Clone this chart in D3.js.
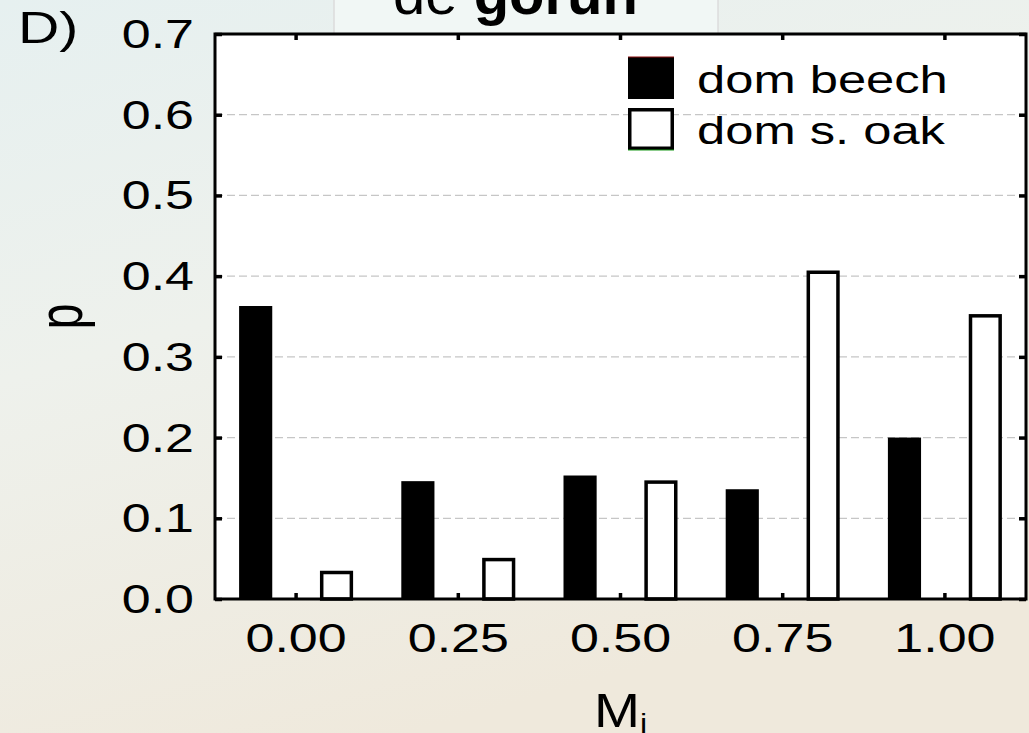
<!DOCTYPE html>
<html>
<head>
<meta charset="utf-8">
<script src="https://cdn.jsdelivr.net/npm/d3@7"></script>
<style>
  body { margin: 0; overflow: hidden; }
  text { font-family: "Liberation Sans", Arial, sans-serif; fill: #000; }
</style>
</head>
<body>
<script>
// values
var categories = ["0.00", "0.25", "0.50", "0.75", "1.00"];
var seriesNames = ["dom beech", "dom s. oak"];
var beech = [0.363, 0.146, 0.153, 0.136, 0.200];
var oak = [0.035, 0.051, 0.147, 0.407, 0.353];
var yTicks = [0.0, 0.1, 0.2, 0.3, 0.4, 0.5, 0.6, 0.7];

var W = 1029, H = 733;
var plot = {left: 215, right: 1026, top: 34, bottom: 599};
var sx = 1.3; // the original figure is stretched sideways

var svg = d3.select("body").append("svg")
    .attr("width", W)
    .attr("height", H);

// slide background
var defs = svg.append("defs");
var grad = defs.append("linearGradient")
    .attr("id", "bg")
    .attr("x1", 0).attr("y1", 0).attr("x2", 0.4).attr("y2", 1);
grad.append("stop").attr("offset", "0%").attr("stop-color", "#e6f0f0");
grad.append("stop").attr("offset", "45%").attr("stop-color", "#eef1ec");
grad.append("stop").attr("offset", "100%").attr("stop-color", "#efe9dc");
svg.append("rect")
    .attr("width", W).attr("height", H)
    .attr("fill", "url(#bg)");

// title box (cut off at the top, as in the slide)
svg.append("rect")
    .attr("x", 334).attr("y", -5)
    .attr("width", 384).attr("height", 42)
    .attr("fill", "#f1f7f5")
    .attr("stroke", "#dcdcdc")
    .attr("stroke-width", 1.5);
var title = svg.append("text")
    .attr("x", 393).attr("y", 14)
    .style("font-size", "58px");
title.append("tspan").text("de ");
title.append("tspan").style("font-weight", "bold").text("gorun");

// scales
var x = d3.scaleBand()
    .domain(categories)
    .range([plot.left, plot.right]);
var xs = d3.scaleBand()
    .domain(seriesNames)
    .range([-57, 57])
    .paddingInner(0.59);
var y = d3.scaleLinear()
    .domain([0, 0.7])
    .range([plot.bottom, plot.top]);

function cx(c) { return x(c) + x.bandwidth() / 2; }

// plot area
svg.append("rect")
    .attr("x", plot.left).attr("y", plot.top)
    .attr("width", plot.right - plot.left)
    .attr("height", plot.bottom - plot.top)
    .attr("fill", "#fff");

// dashed grid
svg.append("g")
    .selectAll("line")
    .data(yTicks.filter(function(d) { return d > 0 && d < 0.7; }))
    .enter().append("line")
    .attr("x1", plot.left).attr("x2", plot.right)
    .attr("y1", function(d) { return y(d); })
    .attr("y2", function(d) { return y(d); })
    .attr("stroke", "#c6c6c6")
    .attr("stroke-width", 1.2)
    .attr("stroke-dasharray", "8,4");

// beech bars
svg.append("g")
    .selectAll("rect")
    .data(beech)
    .enter().append("rect")
    .attr("x", function(d, i) { return cx(categories[i]) + xs(seriesNames[0]); })
    .attr("y", function(d) { return y(d); })
    .attr("width", xs.bandwidth())
    .attr("height", function(d) { return y(0) - y(d); })
    .attr("fill", "#000");

// oak bars
svg.append("g")
    .selectAll("rect")
    .data(oak)
    .enter().append("rect")
    .attr("x", function(d, i) { return cx(categories[i]) + xs(seriesNames[1]) + 1.75; })
    .attr("y", function(d) { return y(d) + 1.75; })
    .attr("width", xs.bandwidth() - 3.5)
    .attr("height", function(d) { return y(0) - y(d) - 1.75; })
    .attr("fill", "#fff")
    .attr("stroke", "#000")
    .attr("stroke-width", 3.5);

// frame
svg.append("rect")
    .attr("x", plot.left).attr("y", plot.top)
    .attr("width", plot.right - plot.left)
    .attr("height", plot.bottom - plot.top)
    .attr("fill", "none")
    .attr("stroke", "#000")
    .attr("stroke-width", 3);

// inward ticks on all four sides
var yAxisL = d3.axisLeft(y).tickValues(yTicks).tickSize(-7).tickFormat("");
var yAxisR = d3.axisRight(y).tickValues(yTicks).tickSize(-7).tickFormat("");
var xAxisB = d3.axisBottom(x).tickSize(-6).tickFormat("");
var xAxisT = d3.axisTop(x).tickSize(-6).tickFormat("");
[
  [yAxisL, "translate(" + plot.left + ",0)"],
  [yAxisR, "translate(" + plot.right + ",0)"],
  [xAxisB, "translate(0," + plot.bottom + ")"],
  [xAxisT, "translate(0," + plot.top + ")"]
].forEach(function(a) {
  var g = svg.append("g").attr("transform", a[1]).call(a[0]);
  g.select(".domain").remove();
  g.selectAll("line").attr("stroke", "#000").attr("stroke-width", 3.5);
});

// y tick labels
svg.append("g")
    .selectAll("text")
    .data(yTicks)
    .enter().append("text")
    .attr("transform", function(d) { return "translate(194," + (y(d) + 14) + ") scale(" + sx + ",1)"; })
    .attr("text-anchor", "end")
    .style("font-size", "40px")
    .text(function(d) { return d3.format(".1f")(d); });

// x tick labels
svg.append("g")
    .selectAll("text")
    .data(categories)
    .enter().append("text")
    .attr("transform", function(d) { return "translate(" + cx(d) + ",652) scale(" + sx + ",1)"; })
    .attr("text-anchor", "middle")
    .style("font-size", "40px")
    .text(function(d) { return d; });

// panel letter
svg.append("text")
    .attr("transform", "translate(18,43) scale(" + sx + ",1)")
    .style("font-size", "44px")
    .text("D)");

// axis titles
svg.append("text")
    .attr("transform", "translate(82," + ((plot.top + plot.bottom) / 2) + ") rotate(-90) scale(1,1.35)")
    .attr("text-anchor", "middle")
    .style("font-size", "46px")
    .text("p");

var xt = svg.append("text")
    .attr("transform", "translate(" + ((plot.left + plot.right) / 2) + ",727) scale(1.15,1)")
    .attr("text-anchor", "middle")
    .style("font-size", "48px");
xt.append("tspan").text("M");
xt.append("tspan").attr("dy", 6).style("font-size", "28px").text("i");

// legend
var legend = svg.append("g")
    .selectAll("g")
    .data(seriesNames)
    .enter().append("g")
    .attr("transform", function(d, i) { return "translate(628," + (57 + i * 51) + ")"; });
legend.append("rect")
    .attr("x", function(d, i) { return i ? 1.75 : 0; })
    .attr("y", function(d, i) { return i ? 1.75 : 0; })
    .attr("width", function(d, i) { return i ? 42.5 : 46; })
    .attr("height", function(d, i) { return i ? 38.5 : 42; })
    .attr("fill", function(d, i) { return i ? "#fff" : "#000"; })
    .attr("stroke", function(d, i) { return i ? "#000" : "none"; })
    .attr("stroke-width", 3.5);
legend.append("line")
    .attr("x1", 0).attr("x2", 46)
    .attr("y1", function(d, i) { return i ? 42 : 0; })
    .attr("y2", function(d, i) { return i ? 42 : 0; })
    .attr("stroke", function(d, i) { return i ? "#1a9a1a" : "#8b1010"; })
    .attr("stroke-width", 1.2);
legend.append("text")
    .attr("transform", "translate(69,36) scale(" + sx + ",1)")
    .style("font-size", "39px")
    .text(function(d) { return d; });
</script>
</body>
</html>
